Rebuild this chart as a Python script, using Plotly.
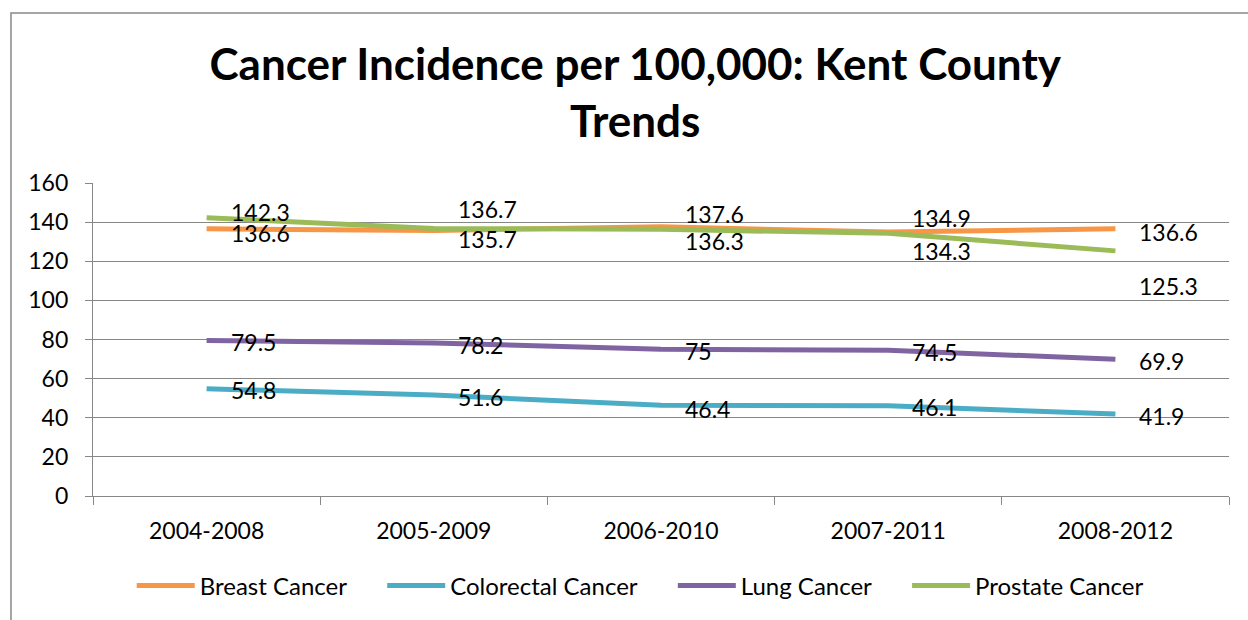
import plotly.graph_objects as go

# Five-year rolling periods and incidence per 100,000
periods = ["2004-2008", "2005-2009", "2006-2010", "2007-2011", "2008-2012"]
breast = [136.6, 135.7, 137.6, 134.9, 136.6]
colorectal = [54.8, 51.6, 46.4, 46.1, 41.9]
lung = [79.5, 78.2, 75, 74.5, 69.9]
prostate = [142.3, 136.7, 136.3, 134.3, 125.3]

series_names = ["Breast Cancer", "Colorectal Cancer", "Lung Cancer", "Prostate Cancer"]
series_values = [breast, colorectal, lung, prostate]
colors = ["#F79646", "#4BACC6", "#8064A2", "#9BBB59"]

# vertical nudges (px) for the value labels so the crowded ones stay readable
label_yshift = [
    [-4, -8, 13, 14, -3],
    [-1, -2, -4, -1, -2],
    [-2, -2, -2, -2, -2],
    [6, 20, -12, -18, -35],
]

FONT = "Lato, 'Open Sans', sans-serif"
GRID = "#878787"
LEGEND_PAD = "\u00a0" * 5  # extra room between legend entries

fig = go.Figure()
for i, (name, vals, col) in enumerate(zip(series_names, series_values, colors)):
    shown = name + (LEGEND_PAD if i < len(series_names) - 1 else "")
    fig.add_trace(go.Scatter(
        x=periods, y=vals, name=shown, mode="lines",
        line=dict(color=col, width=5),
        hovertemplate=name + ": %{y}<extra></extra>",
    ))

annotations = []
for vals, shifts in zip(series_values, label_yshift):
    for p, v, s in zip(periods, vals, shifts):
        annotations.append(dict(
            x=p, y=v, xref="x", yref="y", text=f"{v:g}", showarrow=False,
            xanchor="left", yanchor="middle", xshift=22, yshift=s,
            font=dict(family=FONT, size=23, color="black"),
        ))

fig.update_layout(
    width=1248, height=620, autosize=False,
    margin=dict(l=93, r=19, t=183, b=124),
    paper_bgcolor="white", plot_bgcolor="white",
    font=dict(family=FONT, size=23, color="black"),
    title=dict(
        text="<b>Cancer Incidence per 100,000: Kent County<br>Trends</b>",
        font=dict(family=FONT, size=44, color="black"),
        x=0.509, xref="container", xanchor="center",
        y=0.871, yref="container", yanchor="top",
    ),
    xaxis=dict(
        type="category", range=[-0.5, 4.5], showgrid=False, showline=True,
        linecolor=GRID, linewidth=1.3,
        ticks="outside", ticklen=8, tickcolor=GRID, tickwidth=1.3, tickson="boundaries",
        tickfont=dict(family=FONT, size=23, color="black"), ticklabelstandoff=14,
    ),
    yaxis=dict(
        range=[0, 160], dtick=20, showgrid=True, gridcolor=GRID, gridwidth=1.3,
        zeroline=False, showline=True, linecolor=GRID, linewidth=1.3,
        ticks="outside", ticklen=7, tickcolor=GRID, tickwidth=1.3,
        tickfont=dict(family=FONT, size=23, color="black"), ticklabelstandoff=12,
    ),
    legend=dict(
        orientation="h", xref="container", yref="container",
        x=0.513, xanchor="center", y=0.055, yanchor="middle",
        font=dict(family=FONT, size=24, color="black"),
        itemwidth=58,
    ),
    annotations=annotations,
    shapes=[dict(
        type="rect", xref="paper", yref="paper",
        x0=-0.0722, x1=1.03, y0=-0.5, y1=1.543,
        line=dict(color="#888888", width=1.5), layer="below",
    )],
)

fig.write_html("out.html")
